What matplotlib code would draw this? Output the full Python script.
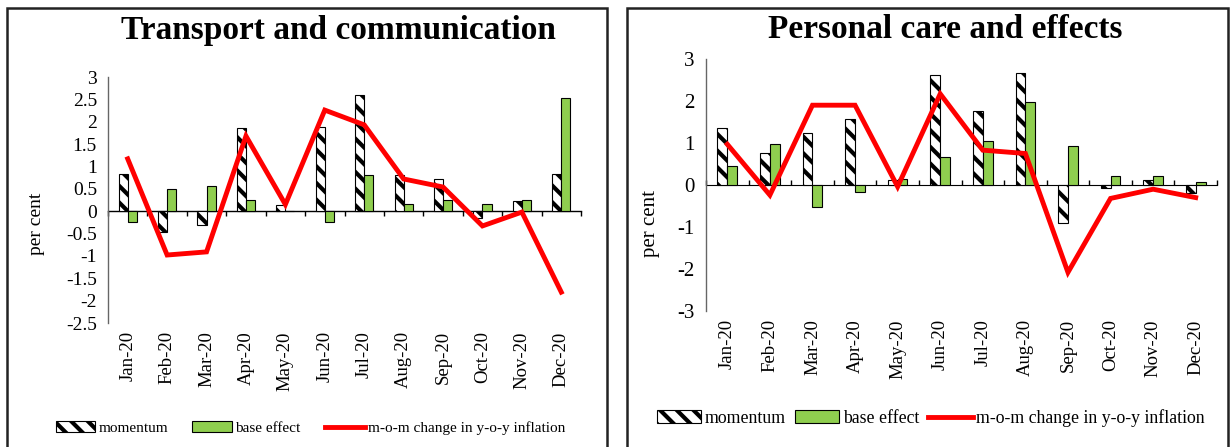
import numpy as np
import matplotlib
matplotlib.use("Agg")
import matplotlib.pyplot as plt
from matplotlib.patches import Rectangle

plt.rcParams['font.family'] = ['Liberation Serif', 'DejaVu Serif']
plt.rcParams['hatch.linewidth'] = 3.0

months = ["Jan-20", "Feb-20", "Mar-20", "Apr-20", "May-20", "Jun-20",
          "Jul-20", "Aug-20", "Sep-20", "Oct-20", "Nov-20", "Dec-20"]

# Transport and communication
tc_momentum = [0.83, -0.46, -0.31, 1.85, 0.13, 1.89, 2.6, 0.8, 0.72, -0.15, 0.22, 0.84]
tc_base = [-0.24, 0.5, 0.57, 0.25, 0.0, -0.24, 0.8, 0.16, 0.25, 0.16, 0.25, 2.52]
tc_mom_change = [1.17, -0.98, -0.91, 1.68, 0.15, 2.26, 1.93, 0.72, 0.54, -0.33, -0.02, -1.81]

# Personal care and effects
pc_momentum = [1.35, 0.77, 1.25, 1.58, 0.13, 2.63, 1.77, 2.66, -0.9, -0.08, 0.13, -0.2]
pc_base = [0.45, 0.97, -0.53, -0.17, 0.14, 0.67, 1.04, 1.98, 0.93, 0.21, 0.21, 0.06]
pc_mom_change = [0.97, -0.24, 1.9, 1.9, -0.04, 2.17, 0.83, 0.75, -2.08, -0.32, -0.1, -0.3]

GREEN = '#8fce4f'
RED = '#ff0000'

fig = plt.figure(figsize=(12.3, 4.47), dpi=100)

# panel borders
for x0, x1 in [(7, 607), (627, 1228)]:
    fig.add_artist(Rectangle((x0 / 1230, -0.05), (x1 - x0) / 1230, 1.05 - 8 / 447,
                             transform=fig.transFigure, fill=False,
                             edgecolor='#222222', linewidth=1.8))


def panel(rect, title, mom, base, line, ylim, yticks, ytlabels, tick_fs, xt_fs,
          title_xy, ylabel_x, leg_y, leg_fs, leg_x, colsp, hlen):
    ax = fig.add_axes(rect)
    x = np.arange(len(months))
    w = 0.23
    h1 = ax.bar(x - w / 2, mom, w, color='white', edgecolor='black', hatch='\\\\',
                linewidth=0.8, label='momentum')
    h2 = ax.bar(x + w / 2, base, w, color=GREEN, edgecolor='black', linewidth=0.8,
                label='base effect')
    h3, = ax.plot(x, line, color=RED, linewidth=3.5, label='m-o-m change in y-o-y inflation',
                  solid_joinstyle='miter')
    ax.set_xlim(-0.5, len(months) - 0.5)
    ax.set_ylim(*ylim)
    ax.set_yticks(yticks)
    ax.set_yticklabels(ytlabels, fontsize=tick_fs)
    ax.tick_params(axis='y', length=0, pad=8)
    ax.set_xticks(x)
    ax.set_xticklabels(months, rotation=90, fontsize=xt_fs)
    ax.tick_params(axis='x', length=0, pad=6)
    for s in ['top', 'right', 'bottom']:
        ax.spines[s].set_visible(False)
    ax.spines['left'].set_color('#666666')
    ax.spines['left'].set_linewidth(1.0)
    # zero axis with category boundary ticks
    loc = (0 - ylim[0]) / (ylim[1] - ylim[0])
    sec = ax.secondary_xaxis(loc)
    sec.set_xticks(np.arange(len(months) + 1) - 0.5)
    sec.set_xticklabels([])
    sec.tick_params(direction='out', length=3.5, width=1.0, color='black')
    sec.spines['bottom'].set_color('black')
    sec.spines['bottom'].set_linewidth(1.0)
    ax.set_ylabel('per cent', fontsize=tick_fs)
    ax.yaxis.set_label_coords(ylabel_x, 0.5, transform=fig.transFigure)
    fig.text(title_xy[0], title_xy[1], title, ha='center', va='center',
             fontsize=24, fontweight='bold')
    fig.legend([h1, h2, h3],
               ['momentum', 'base effect', 'm-o-m change in y-o-y inflation'],
               loc='center left', bbox_to_anchor=(leg_x, leg_y), ncol=3, frameon=False,
               fontsize=leg_fs, handlelength=hlen, handletextpad=0.2,
               columnspacing=colsp, borderpad=0, handleheight=0.7)
    return ax


panel([108 / 1230, 1 - 323 / 447, 473 / 1230, 246 / 447],
      'Transport and communication', tc_momentum, tc_base, tc_mom_change,
      (-2.5, 3.0), np.arange(-2.5, 3.01, 0.5),
      ['-2.5', '-2', '-1.5', '-1', '-0.5', '0', '0.5', '1', '1.5', '2', '2.5', '3'],
      14, 13.5, (338 / 1230, 1 - 30 / 447), 45 / 1230, 1 - 428 / 447, 11.0, 48 / 1230,
      1.6, 2.6)

panel([706 / 1230, 1 - 311 / 447, 511 / 1230, 252 / 447],
      'Personal care and effects', pc_momentum, pc_base, pc_mom_change,
      (-3, 3), np.arange(-3, 3.01, 1),
      ['-3', '-2', '-1', '0', '1', '2', '3'],
      15, 13.5, (945 / 1230, 1 - 30 / 447), 660 / 1230, 1 - 418 / 447, 12.8, 648 / 1230,
      0.5, 2.5)

fig.savefig('out.png', dpi=100)
